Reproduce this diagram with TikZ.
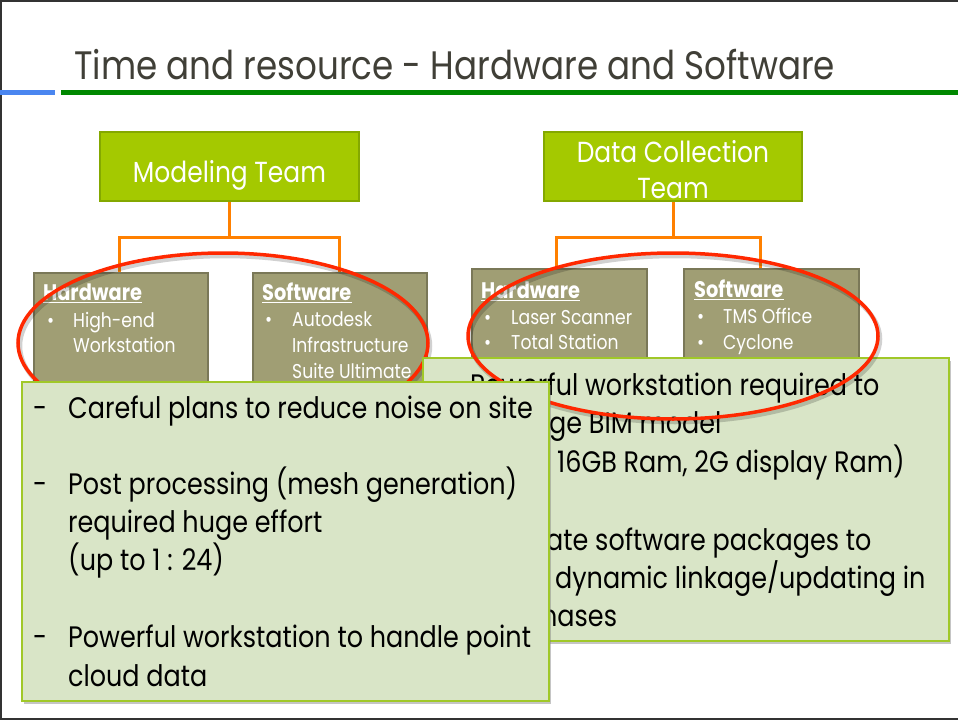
\documentclass[tikz,border=0pt]{standalone}
\usepackage{fontspec}
\setmainfont{Poppins}[FakeStretch=0.86]
\usetikzlibrary{shadows}
\definecolor{titlecol}{RGB}{64,63,55}
\definecolor{bluebar}{RGB}{74,134,240}
\definecolor{greenbar}{RGB}{0,136,0}
\definecolor{teamfill}{RGB}{164,201,0}
\definecolor{teamdraw}{RGB}{132,168,0}
\definecolor{conn}{RGB}{255,128,0}
\definecolor{olivefill}{RGB}{160,158,116}
\definecolor{olivedraw}{RGB}{122,120,88}
\definecolor{ringred}{RGB}{255,40,0}
\definecolor{calfill}{RGB}{217,229,199}
\definecolor{caldraw}{RGB}{160,200,40}
\begin{document}
\begin{tikzpicture}[x=1pt,y=-1pt,
  teambox/.style={draw=teamdraw,fill=teamfill,line width=1.5pt,inner sep=0pt},
  teamtext/.style={anchor=base,inner sep=0pt,text=white,font=\fontsize{29}{34}\selectfont},
  olivebox/.style={draw=olivedraw,fill=olivefill,line width=1.5pt,
    drop shadow={opacity=0.3,shadow xshift=1.5pt,shadow yshift=-1.5pt}},
  calbox/.style={draw=caldraw,fill=calfill,line width=1.8pt,
    drop shadow={opacity=0.45,shadow xshift=2pt,shadow yshift=-3pt}},
  connector/.style={draw=conn,line width=3pt},
  ring/.style={draw=ringred,line width=3.5pt},
  ringshadow/.style={draw=black,opacity=0.18,line width=4.5pt},
  heading/.style={anchor=base west,inner sep=0pt,text=white,font=\fontsize{22.5}{26}\selectfont\bfseries},
  bul/.style={anchor=base west,inner sep=0pt,text=white,font=\fontsize{20}{24}\selectfont},
  caltext/.style={anchor=base west,inner sep=0pt,text=black,font=\fontsize{29.6}{34}\selectfont},
]
\useasboundingbox (0,0) rectangle (958,720);
\fill[white] (0,0) rectangle (958,720);
% frame
\draw[black!80,line width=1.6pt] (0,0.8) -- (958,0.8);
\draw[black!80,line width=1.6pt] (0.8,0) -- (0.8,720);
\draw[black!80,line width=1.6pt] (0,719) -- (958,719);

% title
\node[anchor=base west,inner sep=0pt,text=titlecol,font=\fontsize{39.7}{46}\selectfont] (title) at (74,79) {Time and resource - Hardware and Software};
\draw[bluebar,line width=5pt] (0,92) -- (55,92);
\draw[greenbar,line width=5pt] (61,92) -- (958,92);

% team boxes
\node[teambox,minimum width=259pt,minimum height=69pt] (mt) at (229.5,166.5) {};
\node[teamtext] (mtt) at (229.5,182) {Modeling Team};
\node[teambox,minimum width=258pt,minimum height=69pt] (dc) at (673,166.5) {};
\node[teamtext] (dct1) at (673,162) {Data Collection};
\node[teamtext] (dct2) at (673,198) {Team};

% lower boxes
\node[olivebox,anchor=north west,minimum width=174pt,minimum height=140pt,inner sep=0pt] (lhw) at (33,272) {};
\node[olivebox,anchor=north west,minimum width=174pt,minimum height=140pt,inner sep=0pt] (lsw) at (252,272) {};
\node[olivebox,anchor=north west,minimum width=175pt,minimum height=100pt,inner sep=0pt] (rhw) at (471,268) {};
\node[olivebox,anchor=north west,minimum width=175pt,minimum height=100pt,inner sep=0pt] (rsw) at (683,268) {};

% connectors
\coordinate (mtj) at (229.5,237);
\coordinate (dcj) at (673,237);
\draw[connector] (mt.south) -- (mtj);
\draw[connector] (119,272) |- (mtj) -| (339,272);
\draw[connector] (dc.south) -- (dcj);
\draw[connector] (556,268) |- (dcj) -| (760,268);

% box texts
\node[heading] (h1) at (43,300) {Hardware};
\draw[white,line width=1.4pt] ([yshift=-2.5pt]h1.base west) -- ([yshift=-2.5pt]h1.base east);
\node[bul] (b11) at (47,327) {•};
\node[bul] (t11) at (73,327) {High-end};
\node[bul] (t12) at (73,352) {Workstation};

\node[heading] (h2) at (262,300) {Software};
\draw[white,line width=1.4pt] ([yshift=-2.5pt]h2.base west) -- ([yshift=-2.5pt]h2.base east);
\node[bul] (b21) at (265,326) {•};
\node[bul] (t21) at (292,326) {Autodesk};
\node[bul] (t22) at (292,352) {Infrastructure};
\node[bul] (t23) at (292,378) {Suite Ultimate};

\node[heading] (h3) at (481,298) {Hardware};
\draw[white,line width=1.4pt] ([yshift=-2.5pt]h3.base west) -- ([yshift=-2.5pt]h3.base east);
\node[bul] (b31) at (484,324) {•};
\node[bul] (t31) at (511,324) {Laser Scanner};
\node[bul] (b32) at (484,349) {•};
\node[bul] (t32) at (511,349) {Total Station};

\node[heading] (h4) at (694,297) {Software};
\draw[white,line width=1.4pt] ([yshift=-2.5pt]h4.base west) -- ([yshift=-2.5pt]h4.base east);
\node[bul] (b41) at (697,323) {•};
\node[bul] (t41) at (723,323) {TMS Office};
\node[bul] (b42) at (697,349) {•};
\node[bul] (t42) at (723,349) {Cyclone};

% left ellipse
\draw[ringshadow] (225,346) ellipse [x radius=205pt,y radius=90pt];
\draw[ring] (223,343) ellipse [x radius=205pt,y radius=90pt];

% right callout (its left part is covered by the left callout)
\node[calbox,anchor=north west,minimum width=526pt,minimum height=283pt,inner sep=0pt] (rc) at (422,357) {};
\node[caltext] (r1) at (470,395) {Powerful workstation required to};
\node[caltext] (r2) at (549,433) {ge BIM model};
\node[caltext] (r3) at (557,472) {16GB Ram, 2G display Ram)};
\node[caltext] (r4) at (546,550) {ate software packages to};
\node[caltext] (r5) at (555,588) {dynamic linkage/updating in};
\node[caltext] (r6) at (541,626) {hases};

% right ellipse
\draw[ringshadow] (675,339) ellipse [x radius=205pt,y radius=83pt];
\draw[ring] (673,336) ellipse [x radius=205pt,y radius=83pt];

% left callout
\node[calbox,anchor=north west,minimum width=527pt,minimum height=319pt,inner sep=0pt] (lc) at (21,381) {};
\node[caltext] (l0) at (33,418) {-};
\node[caltext] (l1) at (68,418) {Careful plans to reduce noise on site};
\node[caltext] (l2d) at (33,494) {-};
\node[caltext] (l2) at (68,494) {Post processing (mesh generation)};
\node[caltext] (l3) at (68,532) {required huge effort};
\node[caltext] (l4) at (68,570) {(up to 1 : 24)};
\node[caltext] (l5d) at (33,647) {-};
\node[caltext] (l5) at (68,647) {Powerful workstation to handle point};
\node[caltext] (l6) at (68,686) {cloud data};
\end{tikzpicture}
\end{document}
